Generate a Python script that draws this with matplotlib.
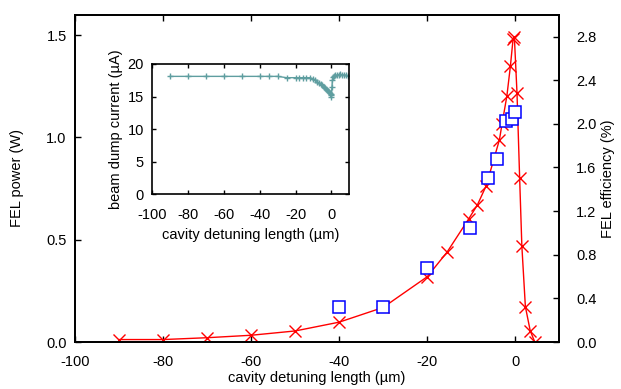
#!/usr/bin/env python3

import matplotlib
matplotlib.use('Agg')
import matplotlib.pyplot as plt

plt.rcParams['font.family'] = ['Liberation Sans', 'DejaVu Sans']
plt.rcParams['font.size'] = 10.5
plt.rcParams['axes.unicode_minus'] = False

# FEL power vs cavity detuning (red crosses, line)
det_power = [-90, -80, -70, -60, -50, -40, -30, -20, -15.5, -10.6, -8.6, -6.6,
             -3.6, -3.0, -1.9, -1.1, -0.5, -0.2, 0.4, 1.0, 1.5, 2.3, 3.4, 4.4]
power = [0.012, 0.012, 0.021, 0.033, 0.054, 0.097, 0.169, 0.319, 0.439, 0.601, 0.670, 0.764,
         0.988, 1.066, 1.203, 1.349, 1.48, 1.49, 1.216, 0.80, 0.469, 0.173, 0.055, 0.002]

# second measurement (blue squares)
det_sq = [-40, -30, -20, -10.2, -6.1, -4.2, -2.0, -0.8, 0.0]
power_sq = [0.169, 0.173, 0.36, 0.556, 0.80, 0.896, 1.082, 1.09, 1.123]

# inset: beam dump current
det_dump = [-90, -80, -70, -60, -50, -40, -35, -30, -25, -20, -18, -16, -14, -12,
            -10, -9, -8, -7, -6, -5, -4, -3.5, -3, -2.5, -2, -1.5, -1, -0.5, -0.2, 0,
            0.3, 0.6, 1, 1.5, 2, 3, 4, 5, 6, 7, 8, 9]
dump = [18.1, 18.1, 18.1, 18.1, 18.1, 18.1, 18.1, 18.1, 17.9, 17.9, 17.9, 17.9, 17.9, 17.9,
        17.7, 17.5, 17.3, 17.1, 16.9, 16.7, 16.5, 16.3, 16.2, 16.0, 15.9, 15.7, 15.6, 15.4, 15.0, 15.3,
        16.5, 17.6, 18.0, 18.2, 18.3, 18.3, 18.3, 18.4, 18.3, 18.3, 18.3, 18.2]

fig = plt.figure(figsize=(6.21, 3.89), dpi=100)
ax = fig.add_axes([0.1208, 0.1208, 0.7798, 0.8414])

ax.plot(det_power, power, color='red', lw=1.0, marker='x', ms=9, mew=1.0)
ax.plot(det_sq, power_sq, ls='none', marker='s', ms=9, mfc='white', mec='blue', mew=1.1)

ax.set_xlim(-100, 10)
ax.set_ylim(0, 1.6)
ax.set_xticks([-100, -80, -60, -40, -20, 0])
ax.set_yticks([0, 0.5, 1.0, 1.5])
ax.set_yticklabels(['0.0', '0.5', '1.0', '1.5'])
ax.tick_params(axis='x', direction='in', length=4, width=1, top=True, pad=9)
ax.tick_params(axis='y', direction='in', length=4, width=1, right=False, pad=6)
ax.set_xlabel('cavity detuning length (µm)', labelpad=2)
ax.set_ylabel('FEL power (W)', labelpad=16)
for s in ax.spines.values():
    s.set_linewidth(1.3)

ax2 = ax.twinx()
ax2.set_ylim(0, 3.0)
ax2.set_yticks([0, 0.4, 0.8, 1.2, 1.6, 2.0, 2.4, 2.8])
ax2.set_yticklabels(['0.0', '0.4', '0.8', '1.2', '1.6', '2.0', '2.4', '2.8'])
ax2.tick_params(direction='in', length=4, width=1, pad=12)
ax2.set_ylabel('FEL efficiency (%)', labelpad=3)
for s in ax2.spines.values():
    s.set_linewidth(1.3)

ins = fig.add_axes([0.2453, 0.5005, 0.3172, 0.335])
ins.plot(det_dump, dump, color='#5f9ea0', lw=1.0, marker='+', ms=5, mew=1.0)
ins.set_xlim(-100, 10)
ins.set_ylim(0, 20)
ins.set_xticks([-100, -80, -60, -40, -20, 0])
ins.set_yticks([0, 5, 10, 15, 20])
ins.tick_params(axis='x', direction='in', length=3, width=1, top=True, pad=10)
ins.tick_params(axis='y', direction='in', length=3, width=1, right=True, pad=6)
ins.set_xlabel('cavity detuning length (µm)', labelpad=4)
ins.set_ylabel('beam dump current (µA)', labelpad=3)
for s in ins.spines.values():
    s.set_linewidth(1.2)

fig.savefig('out.png', dpi=100)
